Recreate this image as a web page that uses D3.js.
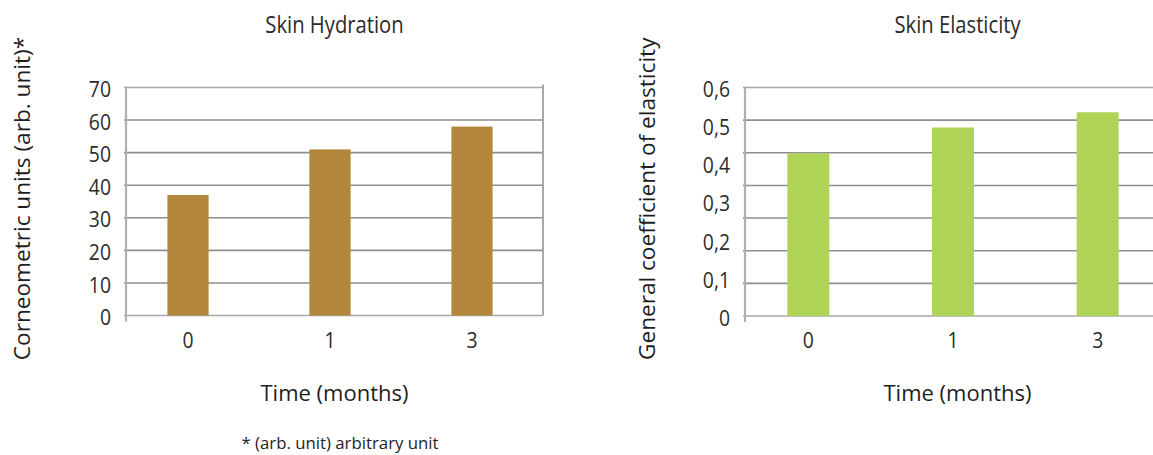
<!DOCTYPE html>
<html>
<head>
<meta charset="utf-8">
<script src="https://cdn.jsdelivr.net/npm/d3@7"></script>
<style>
  html, body { margin: 0; padding: 0; background: #fff; }
  svg { display: block; }
  .reg { font-family: "Open Sans", "Noto Sans", sans-serif; }
</style>
</head>
<body>
<svg id="chart" width="1153" height="455"></svg>
<script>
// ---- data ----
const categories = ["0", "1", "3"];
const hydrationValues = [37, 51, 58];
const elasticityValues = [0.427, 0.495, 0.535];
const hydrationTicks = [0, 10, 20, 30, 40, 50, 60, 70];
const elasticityTicks = [0, 0.1, 0.2, 0.3, 0.4, 0.5, 0.6];
const elasticityTickLabels = ["0", "0,1", "0,2", "0,3", "0,4", "0,5", "0,6"];

const svg = d3.select("#chart");
const textColor = "#2b2b2b";
const narrow = 0.88;

function drawPanel(opts) {
  const { x0, x1, yTop, yBottom, values, yMax, ticks, tickLabels, gridCount,
          color, title, yTitle, yTitleX } = opts;

  const y = d3.scaleLinear().domain([0, yMax]).range([yBottom, yTop]);
  const x = d3.scaleBand().domain(categories).range([x0 - 9, x1])
    .paddingInner(0.71).paddingOuter(0.355);

  const g = svg.append("g");

  // gridlines
  const gridVals = d3.range(gridCount + 1).map(i => i * yMax / gridCount);
  g.selectAll(".grid").data(gridVals).join("line")
    .attr("x1", x0 - 2).attr("x2", x1)
    .attr("y1", d => y(d)).attr("y2", d => y(d))
    .attr("stroke", (d, i) => (i === gridCount || i === 0) ? "#a8a8a8" : "#8e8e8e")
    .attr("stroke-width", 1.6);

  // right border
  if (x1 < 1153) {
    g.append("line").attr("x1", x1).attr("x2", x1)
      .attr("y1", yTop - 3).attr("y2", yBottom)
      .attr("stroke", "#a0a0a0").attr("stroke-width", 1.8);
  }

  // bars
  g.selectAll(".bar").data(values).join("rect")
    .attr("x", (d, i) => x(categories[i]))
    .attr("width", x.bandwidth())
    .attr("y", d => y(d))
    .attr("height", d => y(0) - y(d))
    .attr("fill", color);

  // left axis line
  g.append("line").attr("x1", x0).attr("x2", x0)
    .attr("y1", yTop - 1).attr("y2", yBottom + 6)
    .attr("stroke", "#b0b0b0").attr("stroke-width", 2.2);

  // y tick labels
  g.selectAll(".ytick").data(ticks).join("text")
    .attr("class", "reg")
    .attr("transform", d => `translate(${x0 - 15},${y(d) + 2}) scale(${narrow},1)`)
    .attr("dy", "0.35em")
    .attr("text-anchor", "end")
    .attr("font-size", 22)
    .attr("fill", textColor)
    .text((d, i) => tickLabels[i]);

  // x tick labels
  g.selectAll(".xtick").data(categories).join("text")
    .attr("class", "reg")
    .attr("transform", d => `translate(${x(d) + x.bandwidth() / 2},348) scale(${narrow},1)`)
    .attr("text-anchor", "middle")
    .attr("font-size", 22)
    .attr("fill", textColor)
    .text(d => d);

  const cx = (x0 + x1) / 2;
  // title
  g.append("text").attr("class", "reg")
    .attr("transform", `translate(${cx},33) scale(${narrow},1)`)
    .attr("text-anchor", "middle")
    .attr("font-size", 23)
    .attr("fill", textColor)
    .text(title);

  // x axis title
  g.append("text").attr("class", "reg")
    .attr("x", cx).attr("y", 401)
    .attr("text-anchor", "middle")
    .attr("font-size", 22)
    .attr("fill", "#1e1e1e")
    .text("Time (months)");

  // y axis title
  g.append("text").attr("class", "reg")
    .attr("transform", `translate(${yTitleX},${(yTop + yBottom) / 2 - 3}) rotate(-90)`)
    .attr("text-anchor", "middle")
    .attr("dy", "0.35em")
    .attr("font-size", 22.6)
    .attr("fill", "#1e1e1e")
    .text(yTitle);
}

drawPanel({
  x0: 126, x1: 543, yTop: 87.5, yBottom: 315.5,
  values: hydrationValues, yMax: 70,
  ticks: hydrationTicks, tickLabels: hydrationTicks.map(String),
  gridCount: 7, color: "#b2873c",
  title: "Skin Hydration", yTitle: "Corneometric units (arb. unit)*", yTitleX: 22
});

drawPanel({
  x0: 745, x1: 1170, yTop: 87.5, yBottom: 316,
  values: elasticityValues, yMax: 0.6,
  ticks: elasticityTicks, tickLabels: elasticityTickLabels,
  gridCount: 7, color: "#aed356",
  title: "Skin Elasticity", yTitle: "General coefficient of elasticity", yTitleX: 647
});

// footnote
svg.append("text").attr("class", "reg")
  .attr("x", 340).attr("y", 449)
  .attr("text-anchor", "middle")
  .attr("font-size", 16.8)
  .attr("fill", "#1e1e1e")
  .text("* (arb. unit) arbitrary unit");
</script>
</body>
</html>
